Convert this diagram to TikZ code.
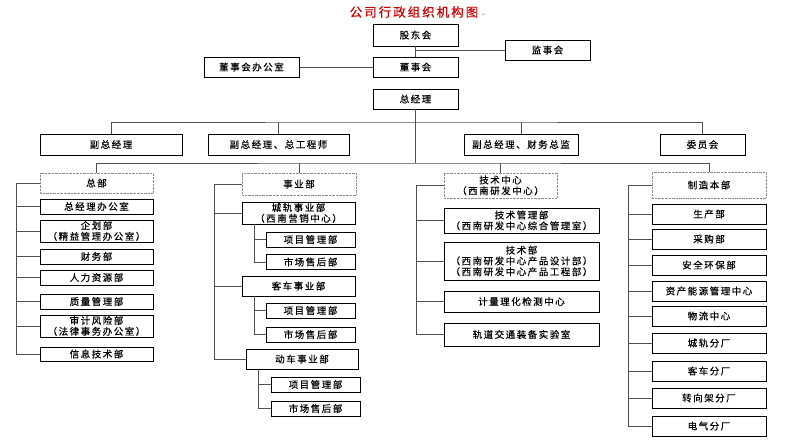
\documentclass[tikz,border=0pt]{standalone}
\usepackage{fontspec}
\setmainfont{Noto Sans CJK SC}[LetterSpace=16, FakeBold=0.4]
\newfontfamily\symfont{DejaVu Sans}
\usetikzlibrary{positioning, shadows}
\definecolor{titlered}{RGB}{204,0,0}
\definecolor{linegray}{RGB}{80,80,80}

\begin{document}
\begin{tikzpicture}[x=1pt, y=-1pt,
    box/.style={draw, rectangle, fill=white, line width=.7pt, align=center, inner sep=0pt, outer sep=0pt,
        font=\fontsize{9.5pt}{10.8pt}\selectfont,
        drop shadow={shadow xshift=.8pt, shadow yshift=-.8pt, fill=black!40, opacity=1}},
    group/.style={draw=black!45, densely dotted, rectangle, align=center, inner sep=0pt, outer sep=0pt,
        font=\fontsize{9.5pt}{10.8pt}\selectfont},
    link/.style={draw=linegray, line width=.8pt}]
    \useasboundingbox (0,0) rectangle (800,445);

    % title
    \node (title) at (414,12) [font=\fontsize{12.5pt}{14pt}\selectfont, text=titlered] {公司行政组织机构图};
    \node (ret) [right=0pt of title, yshift=-3pt, inner sep=0pt, text=black!40, font=\symfont\fontsize{5pt}{6pt}\selectfont] {↵};

    % top levels
    \node (gd) [box, minimum width=85pt, minimum height=22pt] at (415.5,35) {股东会};
    \node (js) [box, minimum width=85pt, minimum height=20pt] at (547.5,50) {监事会};
    \node (ds) [box, minimum width=85pt, minimum height=20pt] at (415.5,67) {董事会};
    \node (dsb) [box, minimum width=95pt, minimum height=20pt] at (251.5,67) {董事会办公室};
    \node (zjl) [box, minimum width=85pt, minimum height=20pt] at (415.5,99) {总经理};
    \draw [link] (gd) -- (ds);
    \draw [link] (js.west) -- (js.west -| gd.south);
    \draw [link] (dsb) -- (ds);
    \coordinate (bus1) at (415.5,122);
    \coordinate (bus2) at (415.5,163);
    \draw [link] (zjl) -- (bus2);

    % deputies
    \node (fz1) [box, minimum width=142pt, minimum height=21pt] at (111,144.5) {副总经理};
    \node (fz2) [box, minimum width=141pt, minimum height=21pt] at (278.5,144.5) {副总经理、总工程师};
    \node (fz3) [box, minimum width=114pt, minimum height=21pt] at (521,144.5) {副总经理、财务总监};
    \node (wyh) [box, minimum width=85pt, minimum height=21pt] at (702.5,144.5) {委员会};
    \draw [link] (fz1.north) |- (bus1) -| (wyh.north);
    \draw [link] (fz2.north) -- (fz2.north |- bus1);
    \draw [link] (fz3.north) -- (fz3.north |- bus1);

    % groups
    \node (zb) [group, minimum width=113pt, minimum height=20pt] at (96.5,183) {总部};
    \node (syb) [group, minimum width=114pt, minimum height=22pt] at (299,184) {事业部};
    \node (jszx) [group, minimum width=113pt, minimum height=25pt] at (500.5,185.5) {技术中心\\（西南研发中心）};
    \node (zzb) [group, minimum width=114pt, minimum height=26pt] at (709,185) {制造本部};
    \draw [link] (zb.north) |- (bus2) -| (zzb.north);
    \draw [link] (syb.north) -- (syb.north |- bus2);
    \draw [link] (jszx.north) -- (jszx.north |- bus2);

    % headquarters
    \coordinate (s1) at (16,183);
    \draw [link] (zb.west) -- (s1);
    \foreach \y/\h/\t [count=\i] in {206.5/15/总经理办公室, 231/22/{企划部\\（精益管理办公室）}, 256.5/15/财务部,
        277.5/15/人力资源部, 301.5/15/质量管理部, 326/22/{审计风险部\\（法律事务办公室）}, 354/14/信息技术部} {
        \node (a\i) [box, minimum width=113pt, minimum height=\h pt] at (96.5,\y) {\t};
        \draw [link] (s1) |- (a\i.west);
    }

    % business units
    \coordinate (s2) at (214,184);
    \draw [link] (syb.west) -- (s2);
    \node (cg) [box, minimum width=113pt, minimum height=22pt] at (298.5,213) {城轨事业部\\（西南营销中心）};
    \node (kc) [box, minimum width=113pt, minimum height=20pt] at (298.5,286) {客车事业部};
    \node (dc) [box, minimum width=112pt, minimum height=20pt] at (302,359) {动车事业部};
    \foreach \n in {cg, kc, dc}
        \draw [link] (s2) |- (\n.west);
    \foreach \n/\x/\ya/\yb in {cg/310.5/239.5/262, kc/310.5/310.5/334.5, dc/315.5/384.5/408.5} {
        \node (\n1) [box, minimum width=89pt, minimum height=15pt] at (\x,\ya) {项目管理部};
        \node (\n2) [box, minimum width=89pt, minimum height=15pt] at (\x,\yb) {市场售后部};
        \draw [link] ([xshift=-44pt]\n.south) |- (\n1.west);
        \draw [link] ([xshift=-44pt]\n.south) |- (\n2.west);
    }

    % technical centre
    \coordinate (s3) at (416,185.5);
    \draw [link] (jszx.west) -- (s3);
    \foreach \y/\h/\t [count=\i] in {220.5/25/{技术管理部\\（西南研发中心综合管理室）},
        261/38/{技术部\\（西南研发中心产品设计部）\\（西南研发中心产品工程部）},
        301.5/21/计量理化检测中心, 334.5/23/轨道交通装备实验室} {
        \node (c\i) [box, minimum width=155pt, minimum height=\h pt] at (521.5,\y) {\t};
        \draw [link] (s3) |- (c\i.west);
    }

    % manufacturing
    \coordinate (s4) at (628,185);
    \draw [link] (zzb.west) -- (s4);
    \foreach \y/\t [count=\i] in {214/生产部, 239/采购部, 265/安全环保部, 291/资产能源管理中心, 316/物流中心,
        343/城轨分厂, 371/客车分厂, 398/转向架分厂, 426/电气分厂} {
        \node (m\i) [box, minimum width=114pt, minimum height=20pt] at (709,\y) {\t};
        \draw [link] (s4) |- (m\i.west);
    }
\end{tikzpicture}
\end{document}
